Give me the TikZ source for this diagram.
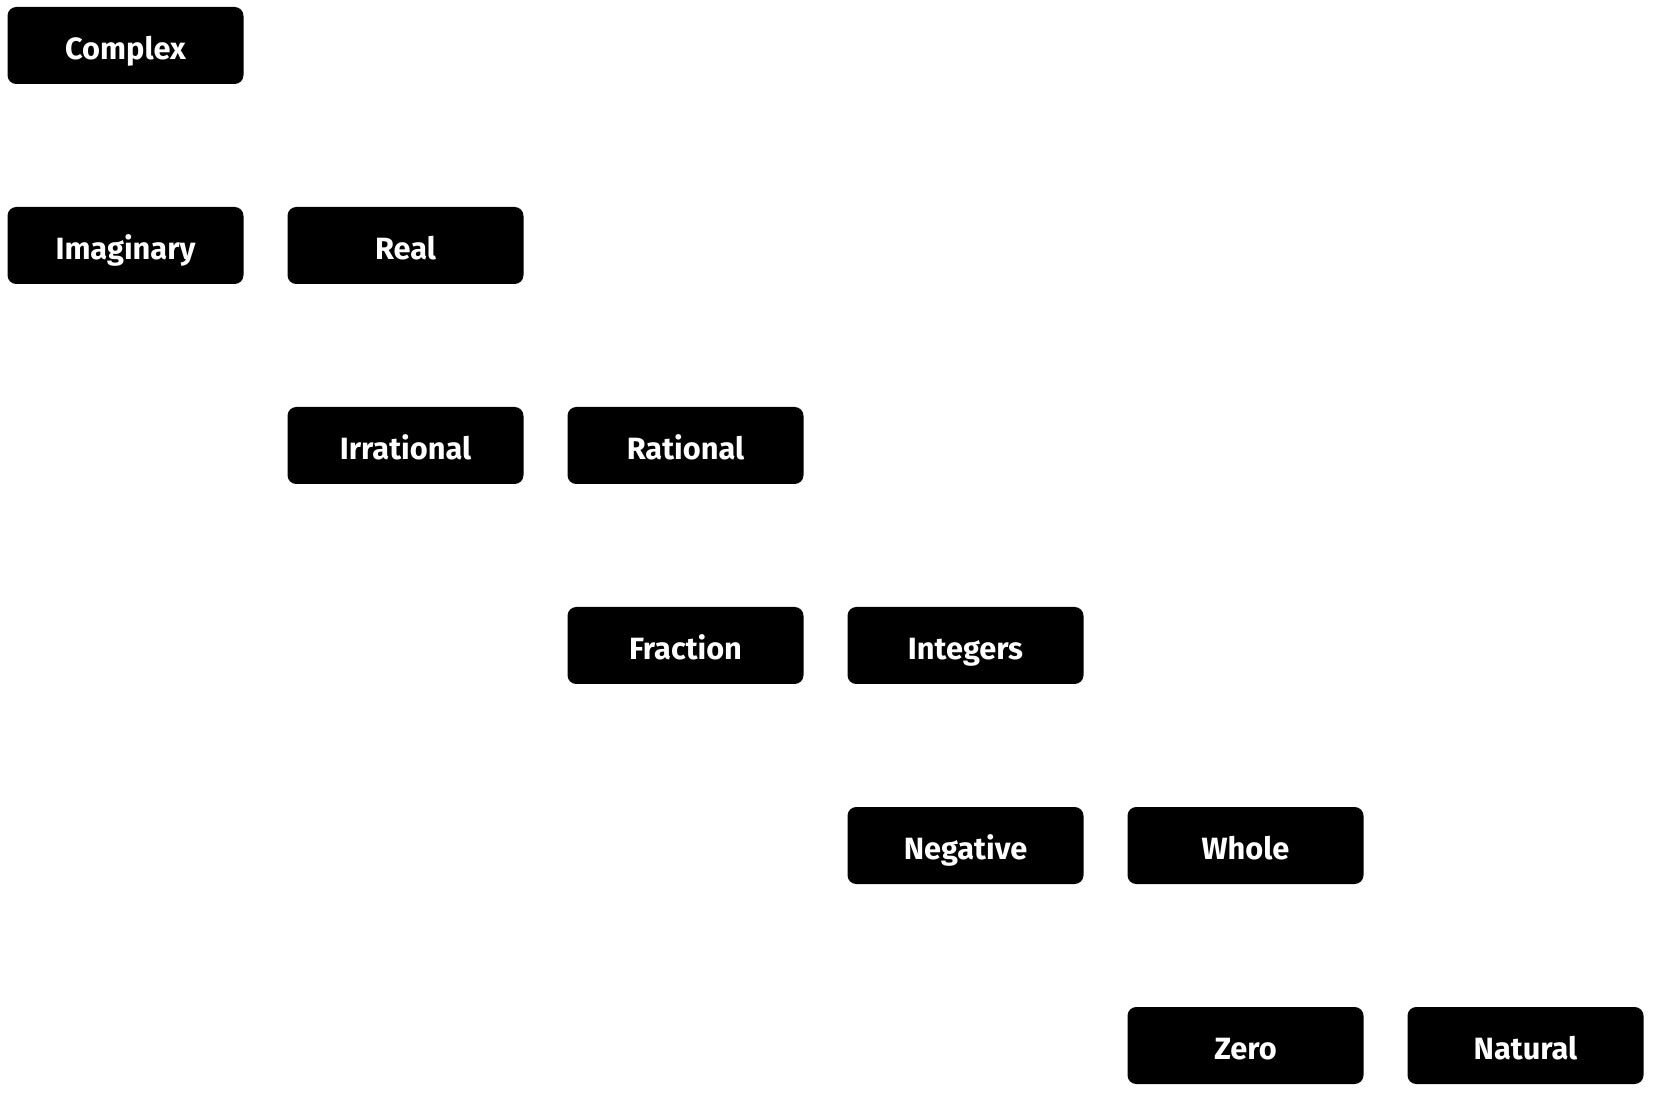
\documentclass[tikz,border=0pt]{standalone}
\usepackage{fontspec}
\newfontfamily\boxfont{Fira Sans}
\usepackage{tikz}

\tikzset{
	numbox/.style={fill=black, rounded corners=5pt, minimum width=236*0.02cm, minimum height=77*0.02cm,
		text=white, font=\boxfont\bfseries\fontsize{17.5}{19}\selectfont, inner sep=0pt,
		text height=16pt, text depth=0pt}
}

\begin{document}
\begin{tikzpicture}[x=0.02cm, y=-0.02cm]
	\useasboundingbox (0,0) rectangle (1654,1094);
	\node[numbox] (complex) at (125.5,45.5) {Complex};
	\node[numbox] (imaginary) at (125.5,245.5) {Imaginary};
	\node[numbox] (real) at (405.5,245.5) {Real};
	\node[numbox] (irrational) at (405.5,445.5) {Irrational};
	\node[numbox] (rational) at (685.5,445.5) {Rational};
	\node[numbox] (fraction) at (685.5,645.5) {Fraction};
	\node[numbox] (integers) at (965.5,645.5) {Integers};
	\node[numbox] (negative) at (965.5,845.5) {Negative};
	\node[numbox] (whole) at (1245.5,845.5) {Whole};
	\node[numbox] (zero) at (1245.5,1045.5) {Zero};
	\node[numbox] (natural) at (1525.5,1045.5) {Natural};
\end{tikzpicture}
\end{document}
